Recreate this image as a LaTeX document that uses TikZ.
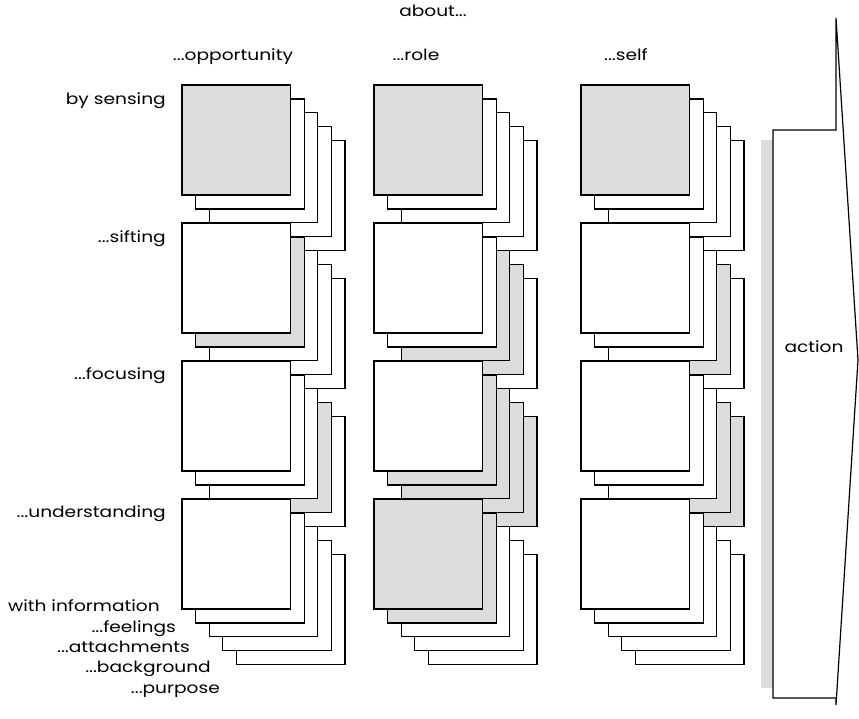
\documentclass[tikz,border=0pt]{standalone}
\usepackage{fontspec}
\setmainfont{Poppins}[FakeStretch=1.2]
\definecolor{cardgray}{HTML}{DCDCDC}
\tikzset{
 card/.style={draw=black, line width=1.2pt, fill=white, minimum width=108.5pt, minimum height=110pt, anchor=north west, inner sep=0pt, outer sep=0pt},
 lbl/.style={font=\fontsize{15.5}{18}\selectfont, inner sep=0pt},
 rlbl/.style={lbl, anchor=mid east},
}
\newcommand\cardstack[8]{%
 \foreach \k/\f in {4/#4,3/#5,2/#6,1/#7,0/#8}{
   \node[card, fill=\f] (#1-\k) at ({#2+\k*13.6},{#3+\k*13.9}) {};
 }}
\begin{document}
\begin{tikzpicture}[x=1pt,y=-1pt]
\useasboundingbox (0,0) rectangle (859,718);
% row 1
\cardstack{o1}{182}{85}{white}{white}{white}{white}{cardgray}
\cardstack{r1}{374}{85}{white}{white}{white}{white}{cardgray}
\cardstack{s1}{581}{85}{white}{white}{white}{white}{cardgray}
% row 2
\cardstack{o2}{182}{223}{white}{white}{white}{cardgray}{white}
\cardstack{r2}{374}{223}{white}{cardgray}{cardgray}{white}{white}
\cardstack{s2}{581}{223}{white}{cardgray}{white}{white}{white}
% row 3
\cardstack{o3}{182}{361}{white}{cardgray}{white}{white}{white}
\cardstack{r3}{374}{361}{cardgray}{cardgray}{cardgray}{cardgray}{white}
\cardstack{s3}{581}{361}{cardgray}{cardgray}{white}{white}{white}
% row 4
\cardstack{o4}{182}{499}{white}{white}{white}{white}{white}
\cardstack{r4}{374}{499}{white}{white}{white}{cardgray}{cardgray}
\cardstack{s4}{581}{499}{white}{white}{white}{white}{white}
% action arrow
\fill[cardgray] (761,140) rectangle (773,688);
\draw[line width=1.2pt, fill=white, line join=miter] (773,130) -- (836,130) -- (836,18) -- (858,360) -- (836,705) -- (836,698) -- (773,698) -- cycle;
\node[lbl, anchor=mid] (action) at (814,350) {action};
% headings
\node[lbl, anchor=mid] (about) at (433,14) {about...};
\node[lbl, anchor=mid] (hopp) at (233,58) {...opportunity};
\node[lbl, anchor=mid] (hrole) at (416,58) {...role};
\node[lbl, anchor=mid] (hself) at (626,58) {...self};
% row labels
\node[rlbl] (lsens) at (166,102) {by sensing};
\node[rlbl] (lsift) at (166,240) {...sifting};
\node[rlbl] (lfoc) at (166,377) {...focusing};
\node[rlbl] (lund) at (166,515) {...understanding};
% card labels
\node[rlbl] (linfo) at (160,609) {with information};
\node[rlbl] (lfeel) at (176,630) {...feelings};
\node[rlbl] (latt) at (190,650) {...attachments};
\node[rlbl] (lback) at (211,670) {...background};
\node[rlbl] (lpurp) at (220,691) {...purpose};
\end{tikzpicture}
\end{document}
